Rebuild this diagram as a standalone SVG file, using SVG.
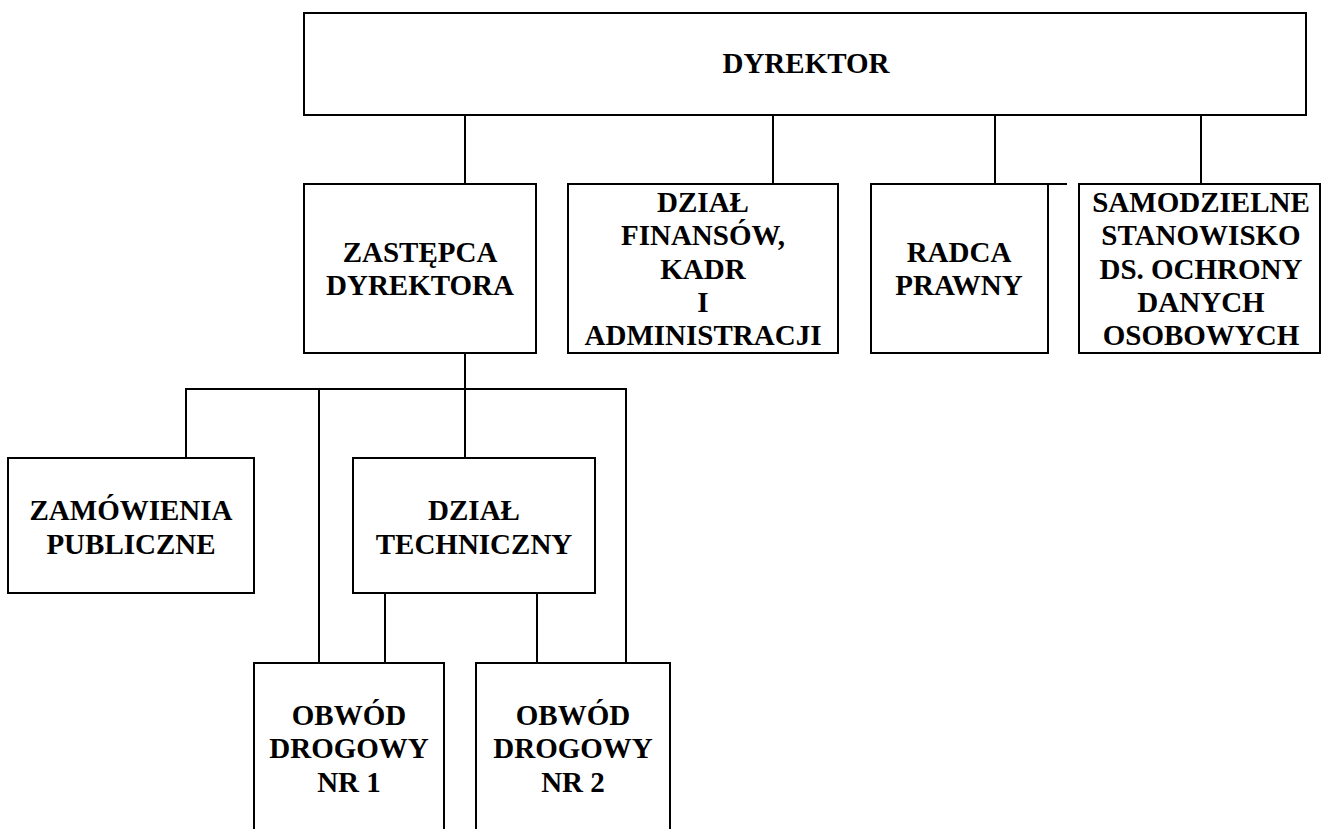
<svg xmlns="http://www.w3.org/2000/svg" width="1322" height="829" viewBox="0 0 1322 829">
<style>
.box{fill:#fff;stroke:#000;stroke-width:2}
.ln{fill:none;stroke:#000;stroke-width:2}
.t{font-family:"Liberation Serif","Times New Roman",serif;font-weight:bold;font-size:29px;fill:#000;text-anchor:middle}
</style>
<rect width="1322" height="829" fill="#fff"/>
<g id="connectors">
<path class="ln" d="M465 115V184M773 115V184M995 115V184M1201 115V184M1048 184H1067M465 353V458M186 458V389H626V663M319 389V663M385 593V663M537 593V663"/>
</g>
<g id="dyrektor">
<rect class="box" x="304" y="13" width="1002" height="102"/>
<text class="t" x="806" y="73">DYREKTOR</text>
</g>
<g id="zastepca">
<rect class="box" x="304" y="184" width="232" height="169"/>
<text class="t" x="420" y="262">ZASTĘPCA</text>
<text class="t" x="420" y="295">DYREKTORA</text>
</g>
<g id="dzial-finansow">
<rect class="box" x="568" y="184" width="270" height="169"/>
<text class="t" x="703" y="212">DZIAŁ</text>
<text class="t" x="703" y="245">FINANSÓW,</text>
<text class="t" x="703" y="279">KADR</text>
<text class="t" x="703" y="312">I</text>
<text class="t" x="703" y="345">ADMINISTRACJI</text>
</g>
<g id="radca">
<rect class="box" x="871" y="184" width="177" height="169"/>
<text class="t" x="959" y="262">RADCA</text>
<text class="t" x="959" y="295">PRAWNY</text>
</g>
<g id="samodzielne">
<rect class="box" x="1079" y="184" width="241" height="169"/>
<text class="t" x="1201" y="212">SAMODZIELNE</text>
<text class="t" x="1201" y="245">STANOWISKO</text>
<text class="t" x="1201" y="279">DS. OCHRONY</text>
<text class="t" x="1201" y="312">DANYCH</text>
<text class="t" x="1201" y="345">OSOBOWYCH</text>
</g>
<g id="zamowienia">
<rect class="box" x="8" y="458" width="246" height="135"/>
<text class="t" x="131" y="520">ZAMÓWIENIA</text>
<text class="t" x="131" y="554">PUBLICZNE</text>
</g>
<g id="dzial-techniczny">
<rect class="box" x="353" y="458" width="242" height="135"/>
<text class="t" x="474" y="520">DZIAŁ</text>
<text class="t" x="474" y="554">TECHNICZNY</text>
</g>
<g id="obwod1">
<rect class="box" x="254" y="663" width="190" height="200"/>
<text class="t" x="349" y="725">OBWÓD</text>
<text class="t" x="349" y="758">DROGOWY</text>
<text class="t" x="349" y="792">NR 1</text>
</g>
<g id="obwod2">
<rect class="box" x="476" y="663" width="194" height="200"/>
<text class="t" x="573" y="725">OBWÓD</text>
<text class="t" x="573" y="758">DROGOWY</text>
<text class="t" x="573" y="792">NR 2</text>
</g>
</svg>
